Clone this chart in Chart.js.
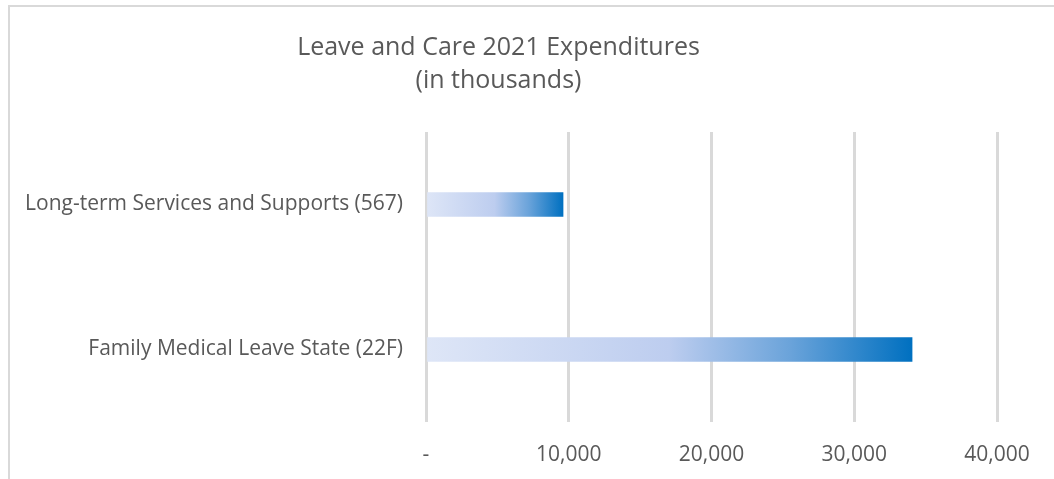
<!DOCTYPE html>
<html lang="en">
<head>
    <meta charset="UTF-8">
    <title>Leave and Care 2021 Expenditures</title>
    <script src="https://cdn.jsdelivr.net/npm/chart.js"></script>
    <style>
        body { margin: 0; background: #fff; }
        #frame {
            position: absolute; left: 8px; top: 5px; right: -10px; bottom: -10px;
            border-left: 2px solid #d9d9d9; border-top: 2px solid #d9d9d9;
        }
        #wrap { position: absolute; left: 0; top: 0; width: 1054px; height: 479px; }
    </style>
</head>
<body>
    <div id="frame"></div>
    <div id="wrap">
        <canvas id="myChart" width="1054" height="479"></canvas>
    </div>
    <script>
        // data (thousands)
        const categories = ['Long-term Services and Supports (567)', 'Family Medical Leave State (22F)'];
        const expenditures = [9600, 34050];
        const tickValues = [0, 10000, 20000, 30000, 40000];
        const titleLines = ['Leave and Care 2021 Expenditures', '(in thousands)'];

        const textColor = '#595959';
        const fontName = 'Open Sans';

        function barGradient(context) {
            const chart = context.chart;
            if (!chart.chartArea) return '#0070c0';
            const xs = chart.scales.x;
            const x0 = xs.getPixelForValue(0);
            const x1 = xs.getPixelForValue(context.raw);
            const g = chart.ctx.createLinearGradient(x0, 0, x1, 0);
            g.addColorStop(0, '#dee6f7');
            g.addColorStop(0.5, '#bdcdef');
            g.addColorStop(0.75, '#6aa3da');
            g.addColorStop(1, '#0070c0');
            return g;
        }

        const ctx = document.getElementById('myChart').getContext('2d');
        const myChart = new Chart(ctx, {
            type: 'bar',
            data: {
                labels: categories,
                datasets: [{
                    data: expenditures,
                    backgroundColor: barGradient,
                    barThickness: 24,
                    borderWidth: 0
                }]
            },
            options: {
                indexAxis: 'y',
                responsive: false,
                animation: false,
                layout: { padding: { top: 0, right: 57, bottom: 0, left: 0 } },
                plugins: {
                    legend: { display: false },
                    tooltip: { enabled: false },
                    title: {
                        display: true,
                        text: titleLines,
                        color: textColor,
                        font: { family: fontName, size: 25, weight: 'normal', lineHeight: 1.32 },
                        padding: { top: 31, bottom: 35 }
                    }
                },
                scales: {
                    x: {
                        min: 0,
                        max: 40000,
                        afterBuildTicks: function(scale) {
                            scale.ticks = tickValues.map(v => ({ value: v }));
                        },
                        afterFit: function(scale) {
                            scale.height = 57;
                        },
                        grid: { color: '#d9d9d9', lineWidth: 3, drawTicks: false },
                        border: { display: false },
                        ticks: {
                            color: textColor,
                            padding: 20,
                            maxRotation: 0,
                            font: { family: fontName, size: 21 },
                            callback: function(value) {
                                return value === 0 ? '-' : value.toLocaleString('en-US');
                            }
                        }
                    },
                    y: {
                        afterFit: function(scale) {
                            scale.width = 426;
                        },
                        grid: { display: false, drawTicks: false },
                        border: { display: false },
                        ticks: {
                            color: textColor,
                            padding: 23,
                            font: { family: fontName, size: 21 }
                        }
                    }
                }
            }
        });
    </script>
</body>
</html>
